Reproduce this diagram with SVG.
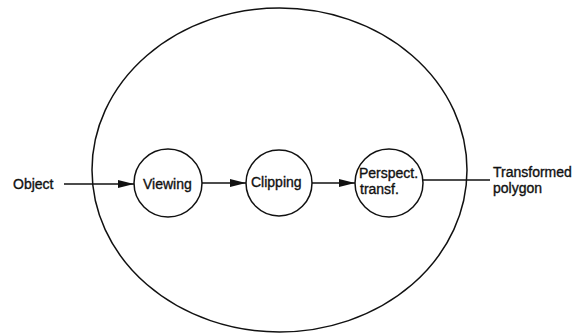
<svg xmlns="http://www.w3.org/2000/svg" width="576" height="333" viewBox="0 0 576 333">
  <defs>
    <marker id="arrow" viewBox="0 0 16 8" refX="16" refY="4" markerWidth="16" markerHeight="8" markerUnits="userSpaceOnUse" orient="auto">
      <path d="M0,0 L16,4 L0,8 Z" fill="#111"/>
    </marker>
  </defs>
  <style>
    .shape { fill: none; stroke: #111; stroke-width: 1.5; }
    .link { fill: none; stroke: #111; stroke-width: 1.5; }
    .label { font-family: "Liberation Sans", Arial, sans-serif; font-size: 14px; fill: #111; stroke: #111; stroke-width: 0.35; }
  </style>
  <rect width="576" height="333" fill="#fff"/>

  <!-- enclosing boundary -->
  <g id="boundary">
    <ellipse class="shape" cx="279.5" cy="170" rx="187.5" ry="162"/>
  </g>

  <!-- connectors -->
  <g id="connectors">
    <line class="link" x1="64" y1="184" x2="134" y2="184" marker-end="url(#arrow)"/>
    <line class="link" x1="202" y1="183" x2="246" y2="183" marker-end="url(#arrow)"/>
    <line class="link" x1="312" y1="183" x2="355" y2="183" marker-end="url(#arrow)"/>
    <line class="link" x1="423" y1="180" x2="490" y2="180"/>
  </g>

  <g id="object">
    <text class="label" x="13" y="189">Object</text>
  </g>

  <g id="viewing">
    <circle class="shape" cx="168" cy="183" r="34"/>
    <text class="label" x="143" y="189">Viewing</text>
  </g>

  <g id="clipping">
    <circle class="shape" cx="279" cy="183" r="33"/>
    <text class="label" x="251" y="187">Clipping</text>
  </g>

  <g id="perspective">
    <circle class="shape" cx="389" cy="183" r="34"/>
    <text class="label" x="359" y="178">Perspect.</text>
    <text class="label" x="360" y="194">transf.</text>
  </g>

  <g id="output">
    <text class="label" x="493" y="177">Transformed</text>
    <text class="label" x="493" y="193">polygon</text>
  </g>
</svg>
